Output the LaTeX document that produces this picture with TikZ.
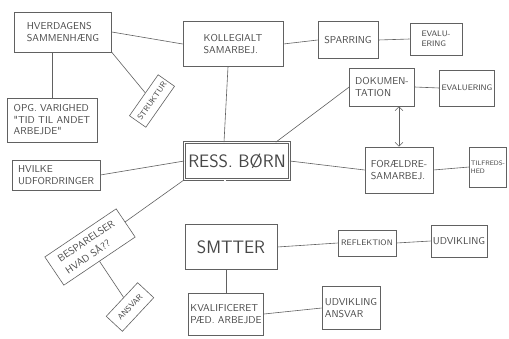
\documentclass[tikz,border=0pt]{standalone}
\usepackage{fontspec}
\usetikzlibrary{positioning}
\usetikzlibrary{arrows.meta}

\begin{document}
\begin{tikzpicture}[x=1pt, y=-1pt,
    pen/.style={draw=black!62, line width=0.6pt},
    box/.style={pen, rectangle, align=left, inner sep=2pt, text=black!72,
        font=\sffamily\fontsize{10}{11.5}\selectfont},
    smallbox/.style={box, font=\sffamily\fontsize{8}{9.5}\selectfont},
    bigbox/.style={box, double, double distance=1.4pt, align=center,
        font=\sffamily\fontsize{18}{19}\selectfont}]
                \useasboundingbox[fill=white] (0,0) rectangle (509,338);

                \node[box, minimum width=97, minimum height=40] (hv) at (63,32) {HVERDAGENS\\SAMMENHÆNG};
                \node[box, minimum width=100, minimum height=45] (ko) at (233,44) {KOLLEGIALT\\SAMARBEJ.};
                \node[box, minimum width=60, minimum height=37] (sp) at (348,40) {SPARRING};
                \node[smallbox, minimum width=52, minimum height=32] (ev) at (436,39) {EVALU-\\ERING};
                \node[box, minimum width=65, minimum height=38] (dk) at (382,87) {DOKUMEN-\\TATION};
                \node[smallbox, minimum width=49, minimum height=36] (ew) at (467,88) {EVALUERING};
                \node[box, minimum width=68, minimum height=46] (fs) at (399,170) {FORÆLDRE-\\SAMARBEJ.};
                \node[smallbox, minimum width=33, minimum height=40, inner sep=1.5pt,
                    font=\sffamily\fontsize{6.5}{8}\selectfont] (tf) at (488,167) {TILFREDS-\\HED};
                \node[bigbox, minimum width=105, minimum height=37] (rb) at (237,161) {RESS. BØRN};
                \node[bigbox, double=none, minimum width=92, minimum height=45] (sm) at (231,247) {SMTTER};
                \node[box, minimum width=73, minimum height=42] (kv) at (226,314) {KVALIFICERET\\PÆD. ARBEJDE};
                \node[box, minimum width=58, minimum height=43] (ua) at (351,308) {UDVIKLING\\ANSVAR};
                \node[smallbox, minimum width=58, minimum height=26] (rf) at (367,243) {REFLEKTION};
                \node[box, minimum width=52, minimum height=32] (ud) at (459,241) {UDVIKLING};
                \node[box, minimum width=90, minimum height=44] (og) at (52,120) {OPG. VARIGHED\\\textquotedbl TID TIL ANDET\\ARBEJDE\textquotedbl};
                \node[box, minimum width=88, minimum height=30] (hu) at (56,175) {HVILKE\\UDFORDRINGER};
                \node[smallbox, rotate=55, minimum width=50, minimum height=20] (st) at (152,101) {STRUKTUR};
                \node[box, rotate=34, minimum width=86, minimum height=34,
                    font=\sffamily\fontsize{10}{14}\selectfont] (bs) at (90,247) {BESPARELSER\\HVAD SÅ??};
                \node[smallbox, rotate=47, minimum width=46, minimum height=22] (an) at (130,307) {ANSVAR};

                \draw[pen] (hv.east) -- (ko.west);
                \draw[pen] (og.north |- hv.south) -- (og.north);
                \draw[pen] (hv.south east) -- (st);
                \draw[pen] (ko.east) -- (sp.west);
                \draw[pen] (sp.east) -- (ev.west);
                \draw[pen] ([xshift=-5]ko.south) -- ([xshift=-9]ko.south |- rb.north);
                \draw[pen] ([xshift=-14]rb.north east) -- (dk.west);
                \draw[pen] (dk.east) -- (ew.west);
                \draw[pen, {Straight Barb[length=4pt]}-{Straight Barb[length=4pt]}] (fs.north |- dk.south) -- (fs.north);
                \draw[pen] (rb.east) -- (fs.west);
                \draw[pen] (fs.east) -- (tf.west);
                \draw[pen] (hu.east) -- (rb.west);
                \draw[pen] (rb.south west) -- (bs);
                \draw[pen, double, double distance=1.4pt] ([xshift=-6]sm.north |- rb.south) -- ([xshift=-6]sm.north);
                \draw[pen] (sm.east) -- (rf.west);
                \draw[pen] (rf.east) -- (ud.west);
                \draw[pen] (kv.north |- sm.south) -- (kv.north);
                \draw[pen] (kv.east) -- (ua.west);
                \draw[pen] (bs) -- (an);
            \end{tikzpicture}
\end{document}
